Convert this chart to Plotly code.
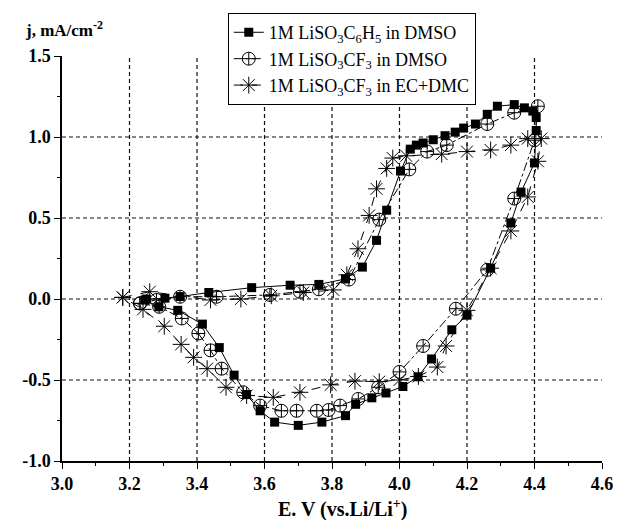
import plotly.graph_objects as go

# ---- data ----
sq_x = [3.25, 3.305, 3.35, 3.435, 3.562, 3.676, 3.761, 3.84, 3.89, 3.932, 3.962, 4.003, 4.032, 4.05, 4.07, 4.10, 4.135,
        4.165, 4.19, 4.225, 4.26, 4.29, 4.34, 4.37, 4.395, 4.405, 4.405,
        4.40, 4.36, 4.33, 4.27, 4.20, 4.155, 4.095, 4.055, 4.01, 3.96, 3.918, 3.87, 3.84, 3.77, 3.70, 3.63, 3.587,
        3.547, 3.51, 3.466, 3.416, 3.343, 3.287, 3.246]
sq_y = [0.0, 0.005, 0.015, 0.04, 0.07, 0.085, 0.09, 0.124, 0.197, 0.362, 0.548, 0.79, 0.925, 0.95, 0.963, 0.983, 1.008,
        1.03, 1.055, 1.08, 1.14, 1.19, 1.20, 1.18, 1.16, 1.12, 1.04,
        0.84, 0.66, 0.47, 0.19, -0.10, -0.19, -0.37, -0.48, -0.54, -0.58, -0.61, -0.65, -0.72, -0.76, -0.78, -0.76, -0.69,
        -0.59, -0.47, -0.30, -0.155, -0.07, -0.048, -0.006]

ci_x = [3.231, 3.28, 3.35, 3.458, 3.616, 3.705, 3.761, 3.85, 3.94, 4.029, 4.082, 4.14, 4.26, 4.34, 4.41,
        4.40, 4.34, 4.26, 4.167, 4.07, 4.0, 3.937, 3.878, 3.824, 3.79, 3.755, 3.695, 3.65, 3.587, 3.537,
        3.473, 3.44, 3.404, 3.355, 3.288, 3.231]
ci_y = [-0.027, -0.006, 0.014, 0.014, 0.025, 0.045, 0.06, 0.12, 0.49, 0.80, 0.91, 0.95, 1.08, 1.15, 1.19,
        0.98, 0.62, 0.18, -0.06, -0.29, -0.45, -0.545, -0.617, -0.658, -0.685, -0.69, -0.69, -0.69, -0.658, -0.576,
        -0.43, -0.317, -0.213, -0.12, -0.048, -0.027]

as_x = [3.18, 3.26, 3.44, 3.53, 3.62, 3.715, 3.804, 3.844, 3.877, 3.91, 3.932, 3.962, 3.98, 4.02, 4.125, 4.2, 4.27,
        4.33, 4.38, 4.42,
        4.41, 4.38, 4.33, 4.27, 4.2, 4.138, 4.112, 4.056, 4.0, 3.94, 3.868, 3.796, 3.705, 3.626, 3.547, 3.486,
        3.43, 3.39, 3.353, 3.303, 3.24, 3.18]
as_y = [0.01, 0.045, -0.006, 0.0, 0.02, 0.04, 0.056, 0.149, 0.31, 0.516, 0.68, 0.806, 0.87, 0.884, 0.894, 0.91, 0.92,
        0.95, 0.99, 0.99,
        0.85, 0.63, 0.42, 0.19, -0.07, -0.29, -0.42, -0.478, -0.50, -0.51, -0.507, -0.53, -0.576, -0.607, -0.596, -0.545,
        -0.43, -0.36, -0.28, -0.168, -0.064, 0.01]

names = ["1M LiSO<sub>3</sub>C<sub>6</sub>H<sub>5</sub> in DMSO",
         "1M LiSO<sub>3</sub>CF<sub>3</sub> in DMSO",
         "1M LiSO<sub>3</sub>CF<sub>3</sub> in EC+DMC"]

x_ticks = [3.0, 3.2, 3.4, 3.6, 3.8, 4.0, 4.2, 4.4, 4.6]
x_labels = ["3.0", "3.2", "3.4", "3.6", "3.8", "4.0", "4.2", "4.4", "4.6"]
y_ticks = [-1.0, -0.5, 0.0, 0.5, 1.0, 1.5]
y_labels = ["-1.0", "-0.5", "0.0", "0.5", "1.0", "1.5"]
x_grid = [3.2, 3.4, 3.6, 3.8, 4.0, 4.2, 4.4]
y_grid = [-0.5, 0.0, 0.5, 1.0]

FONT = "Liberation Serif"

fig = go.Figure()
fig.add_trace(go.Scatter(x=sq_x, y=sq_y, name=names[0], mode="lines+markers",
                         line=dict(color="black", width=1, dash="solid"),
                         marker=dict(symbol="square", size=9, color="black")))
fig.add_trace(go.Scatter(x=ci_x, y=ci_y, name=names[1], mode="lines+markers",
                         line=dict(color="black", width=1, dash="dashdot"),
                         marker=dict(symbol="circle-cross-open", size=13, color="black",
                                     line=dict(width=1, color="black"))))
fig.add_trace(go.Scatter(x=as_x, y=as_y, name=names[2], mode="lines+markers",
                         line=dict(color="black", width=1, dash="dash"),
                         marker=dict(symbol="asterisk-open", size=14, color="black",
                                     line=dict(width=1, color="black"))))

grid_line = dict(color="#111", width=1.2, dash="4px,3px")
shapes = []
for gx in x_grid:
    shapes.append(dict(type="line", xref="x", yref="y", x0=gx, x1=gx, y0=-1.0, y1=1.5,
                       line=grid_line, layer="below"))
for gy in y_grid:
    shapes.append(dict(type="line", xref="x", yref="y", x0=3.0, x1=4.6, y0=gy, y1=gy,
                       line=grid_line, layer="below"))

tick_font = dict(family=FONT, size=18, weight="bold", color="black")

fig.update_layout(
    width=619, height=520,
    margin=dict(l=62, r=17, t=56, b=59, autoexpand=False),
    paper_bgcolor="white", plot_bgcolor="white",
    font=dict(family=FONT, color="black"),
    shapes=shapes,
    showlegend=True,
    legend=dict(x=0.307, y=1.106, xanchor="left", yanchor="top",
                bgcolor="white", bordercolor="black", borderwidth=1,
                font=dict(family=FONT, size=18, color="black"),
                tracegroupgap=0, itemwidth=30),
    xaxis=dict(range=[3.0, 4.6], tickvals=x_ticks, ticktext=x_labels,
               showgrid=False, zeroline=False, showline=True, linecolor="black", linewidth=1.5,
               ticks="outside", ticklen=6, tickwidth=1.2, tickcolor="black",
               tickfont=tick_font, ticklabeloverflow="allow",
               minor=dict(tickmode="linear", tick0=3.0, dtick=0.1, ticks="outside", ticklen=3,
                          tickcolor="black", showgrid=False)),
    yaxis=dict(range=[-1.0, 1.5], tickvals=y_ticks, ticktext=y_labels,
               showgrid=False, zeroline=False, showline=True, linecolor="black", linewidth=1.5,
               ticks="outside", ticklen=6, tickwidth=1.2, tickcolor="black",
               tickfont=tick_font, ticklabeloverflow="allow",
               minor=dict(tickmode="linear", tick0=-1.0, dtick=0.25, ticks="outside", ticklen=3,
                          tickcolor="black", showgrid=False)),
    annotations=[
        dict(text="j, mA/cm<sup>-2</sup>", xref="paper", yref="paper", x=-0.072, y=1.067,
             xanchor="left", yanchor="middle", showarrow=False,
             font=dict(family=FONT, size=17, weight="bold", color="black")),
        dict(text="E. V (vs.Li/Li<sup>+</sup>)", xref="paper", yref="paper", x=0.52, y=-0.117,
             xanchor="center", yanchor="middle", showarrow=False,
             font=dict(family=FONT, size=20, weight="bold", color="black")),
    ],
)

fig.write_html("out.html", config={"displayModeBar": False},
               post_script="document.body.style.margin='0';")
